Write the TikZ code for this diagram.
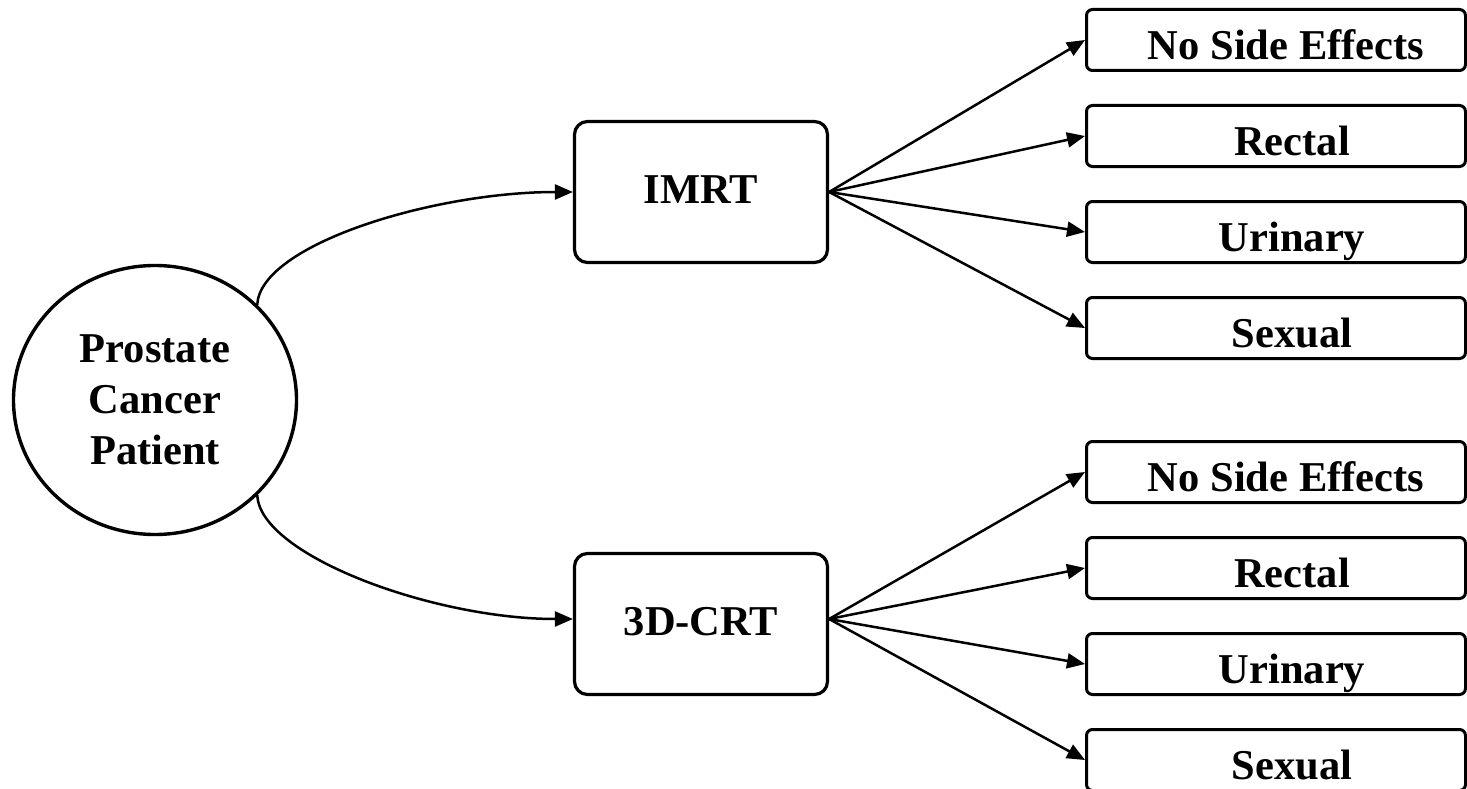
\documentclass[tikz,border=0pt]{standalone}
\usepackage{fontspec}
\setmainfont{Liberation Serif}
\usetikzlibrary{shapes.geometric,arrows.meta}
\tikzset{
  txt/.style={font=\bfseries\fontsize{42.5}{51}\selectfont},
  patnode/.style={ellipse, draw, line width=3.4pt, minimum width=283pt, minimum height=269pt, inner sep=0pt, align=center, txt},
  mainbox/.style={draw, line width=3.2pt, rounded corners=13pt, minimum width=253pt, minimum height=141pt, inner sep=0pt, text height=30pt, text depth=8pt, txt},
  outbox/.style={draw, line width=3pt, rounded corners=6pt, minimum width=379pt, minimum height=61pt, inner sep=0pt, text height=39pt, text depth=0pt, txt},
  conn/.style={line width=2.5pt, -{Triangle[length=18pt,width=15pt]}, line cap=round}
}
\begin{document}
\begin{tikzpicture}[x=1pt,y=-1pt]
\useasboundingbox (0,0) rectangle (1467,789);
\node[patnode] (pat) at (155,400) {Prostate\\Cancer\\Patient};
\node[mainbox] (imrt) at (701,192) {IMRT};
\node[mainbox] (crt) at (701,624) {3D-CRT};
\node[outbox] (a1) at (1276,40) {\hspace*{20pt}No Side Effects};
\node[outbox] (a2) at (1276,136) {\hspace*{32pt}Rectal};
\node[outbox] (a3) at (1276,232) {\hspace*{32pt}Urinary};
\node[outbox] (a4) at (1276,328) {\hspace*{32pt}Sexual};
\node[outbox] (b1) at (1276,472) {\hspace*{20pt}No Side Effects};
\node[outbox] (b2) at (1276,568) {\hspace*{32pt}Rectal};
\node[outbox] (b3) at (1276,664) {\hspace*{32pt}Urinary};
\node[outbox] (b4) at (1276,760) {\hspace*{32pt}Sexual};
\draw[conn] (pat.43) .. controls +(3,-60) and +(-140,0) .. (imrt.west);
\draw[conn] (pat.-43) .. controls +(3,60) and +(-140,0) .. ([yshift=5pt]crt.west);
\foreach \t in {a1,a2,a3,a4} \draw[conn] (imrt.east) -- (\t.west);
\foreach \t in {b1,b2,b3,b4} \draw[conn] ([yshift=5pt]crt.east) -- (\t.west);
\end{tikzpicture}
\end{document}
